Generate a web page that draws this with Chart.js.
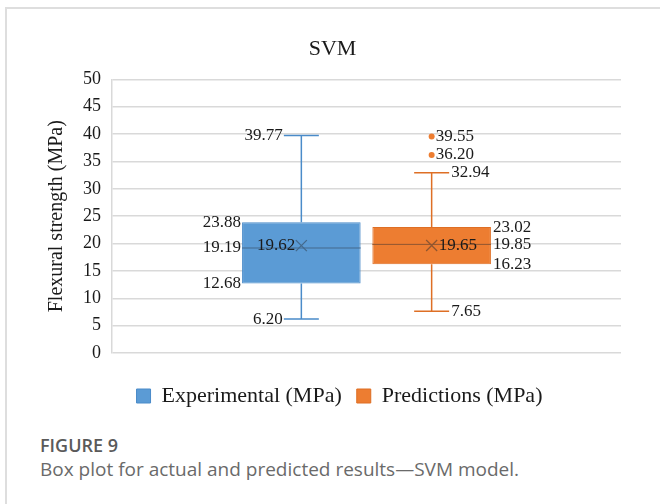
<!DOCTYPE html>
<html>
<head>
<meta charset="utf-8">
<script src="https://cdn.jsdelivr.net/npm/chart.js@4.4.1/dist/chart.umd.min.js"></script>
<style>
    html, body { margin: 0; padding: 0; background: #fff; }
    #card {
        position: absolute; left: 5px; top: 7px; width: 660px; height: 504px;
        border-top: 2px solid #dedede; border-left: 2px solid #dedede;
    }
    #chartWrap { position: absolute; left: 0; top: 0; width: 660px; height: 430px; }
    .fig-label {
        position: absolute; left: 40px; top: 436px; margin: 0;
        font: 600 18px/18px "Open Sans", sans-serif; color: #5a5a5a;
    }
    .fig-caption {
        position: absolute; left: 40px; top: 460px; margin: 0;
        font: 400 19px/19px "Open Sans", sans-serif; color: #6a6a6a;
    }
</style>
</head>
<body>
<div id="card"></div>
<div id="chartWrap"><canvas id="svmBoxChart"></canvas></div>
<p class="fig-label">FIGURE 9</p>
<p class="fig-caption">Box plot for actual and predicted results—SVM model.</p>

<script>
// Box plot statistics (MPa)
const seriesNames = ['Experimental (MPa)', 'Predictions (MPa)'];
const minValues = [6.20, 7.65];
const q1Values = [12.68, 16.23];
const medianValues = [19.19, 19.85];
const q3Values = [23.88, 23.02];
const maxValues = [39.77, 32.94];
const meanValues = [19.62, 19.65];
const outlierValues = [[], [39.55, 36.20]];

const fillColors = ['#5B9BD5', '#ED7D31'];
const edgeColors = ['#4A8BC9', '#DE6F25'];
const markColors = ['#44698C', '#8F5630'];

const serif = '"Liberation Serif", "Times New Roman", serif';
const textColor = '#1a1a1a';

// whiskers, caps, median, mean cross, outliers and value labels
const boxPlotExtras = {
    id: 'boxPlotExtras',
    afterDatasetsDraw(chart) {
        const ctx = chart.ctx;
        const yScale = chart.scales.y;
        ctx.save();
        ctx.font = '17px ' + serif;
        ctx.textBaseline = 'middle';

        chart.data.datasets.forEach((ds, i) => {
            const bar = chart.getDatasetMeta(i).data[0];
            const cx = bar.x;
            const half = bar.width / 2;
            const capHalf = 17.5;
            const leftSide = i === 0;
            const py = v => yScale.getPixelForValue(v);

            // whiskers and caps
            ctx.strokeStyle = edgeColors[i];
            ctx.lineWidth = 1.5;
            ctx.beginPath();
            ctx.moveTo(cx, py(q3Values[i]));
            ctx.lineTo(cx, py(maxValues[i]));
            ctx.moveTo(cx, py(q1Values[i]));
            ctx.lineTo(cx, py(minValues[i]));
            ctx.moveTo(cx - capHalf, py(maxValues[i]));
            ctx.lineTo(cx + capHalf, py(maxValues[i]));
            ctx.moveTo(cx - capHalf, py(minValues[i]));
            ctx.lineTo(cx + capHalf, py(minValues[i]));
            ctx.stroke();

            // median
            ctx.strokeStyle = markColors[i];
            ctx.lineWidth = 1;
            ctx.beginPath();
            ctx.moveTo(cx - half, py(medianValues[i]));
            ctx.lineTo(cx + half, py(medianValues[i]));
            ctx.stroke();

            // mean cross
            const my = py(meanValues[i]);
            ctx.lineWidth = 1.3;
            ctx.beginPath();
            ctx.moveTo(cx - 5.5, my - 5.5);
            ctx.lineTo(cx + 5.5, my + 5.5);
            ctx.moveTo(cx + 5.5, my - 5.5);
            ctx.lineTo(cx - 5.5, my + 5.5);
            ctx.stroke();

            // outliers
            ctx.fillStyle = fillColors[i];
            outlierValues[i].forEach(v => {
                ctx.beginPath();
                ctx.arc(cx, py(v), 3, 0, Math.PI * 2);
                ctx.fill();
            });

            // labels
            ctx.fillStyle = textColor;
            const put = (v, x) => ctx.fillText(v.toFixed(2), x, py(v));
            if (leftSide) {
                ctx.textAlign = 'right';
                put(maxValues[i], cx - capHalf - 1);
                put(minValues[i], cx - capHalf - 1);
                put(q3Values[i], cx - half - 1);
                put(medianValues[i], cx - half - 1);
                put(q1Values[i], cx - half - 1);
                ctx.fillText(meanValues[i].toFixed(2), cx - 6, my);
            } else {
                ctx.textAlign = 'left';
                put(maxValues[i], cx + capHalf + 2);
                put(minValues[i], cx + capHalf + 2);
                put(q3Values[i], cx + half + 2);
                put(medianValues[i], cx + half + 2);
                put(q1Values[i], cx + half + 2);
                ctx.fillText(meanValues[i].toFixed(2), cx + 7, my);
                outlierValues[i].forEach(v => put(v, cx + 4));
            }
        });
        ctx.restore();
    }
};

// nudge the legend row a little to the right of the canvas centre
const legendShift = {
    id: 'legendShift',
    afterLayout(chart) {
        const lg = chart.legend;
        if (lg) {
            lg.left += 7;
            lg.right += 7;
        }
    }
};

const datasets = seriesNames.map((name, i) => ({
    label: name,
    data: [[q1Values[i], q3Values[i]]],
    backgroundColor: fillColors[i],
    borderColor: edgeColors[i],
    borderWidth: 1,
    borderSkipped: false,
    categoryPercentage: 0.512,
    barPercentage: 0.91
}));

new Chart(document.getElementById('svmBoxChart'), {
    type: 'bar',
    data: { labels: [''], datasets: datasets },
    plugins: [boxPlotExtras, legendShift],
    options: {
        responsive: true,
        maintainAspectRatio: false,
        animation: false,
        layout: { padding: { left: 44, right: 39, top: 0, bottom: 13 } },
        plugins: {
            tooltip: { enabled: false },
            title: {
                display: true,
                text: 'SVM',
                color: textColor,
                font: { family: serif, size: 22, weight: 'normal' },
                padding: { top: 36, bottom: 17 }
            },
            legend: {
                position: 'bottom',
                labels: {
                    color: textColor,
                    font: { family: serif, size: 22 },
                    boxWidth: 14,
                    boxHeight: 14,
                    padding: 15
                }
            }
        },
        scales: {
            x: {
                grid: { display: false },
                border: { display: false },
                ticks: { display: false },
                afterFit: scale => { scale.height = 17; }
            },
            y: {
                min: 0,
                max: 50,
                ticks: {
                    stepSize: 5,
                    color: textColor,
                    padding: 11,
                    font: { family: serif, size: 18 }
                },
                grid: { color: '#d9d9d9', lineWidth: 1.5, drawTicks: false },
                border: { display: true, color: '#d9d9d9', width: 1.5 },
                title: {
                    display: true,
                    text: 'Flexural strength (MPa)',
                    color: textColor,
                    font: { family: serif, size: 20 },
                    padding: { top: 1, bottom: 0 }
                },
                afterFit: scale => { scale.width = 68; }
            }
        }
    }
});
</script>
</body>
</html>
